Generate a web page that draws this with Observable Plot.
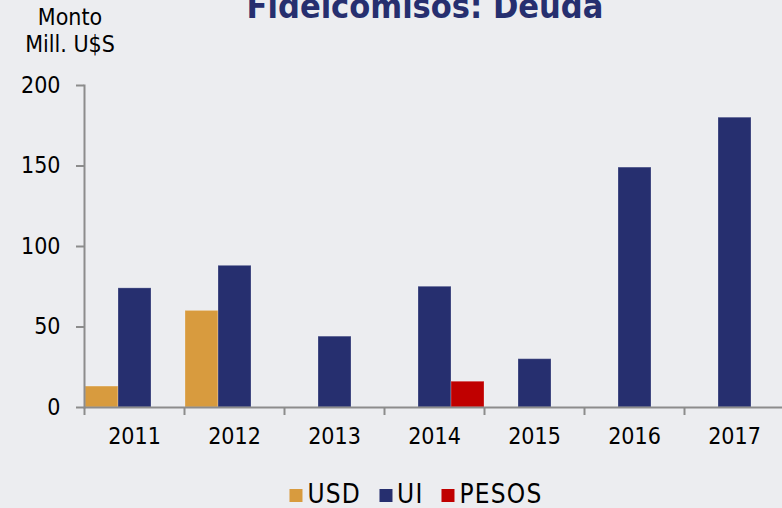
<!DOCTYPE html>
<html><head><meta charset="utf-8">
<script src="https://cdn.jsdelivr.net/npm/d3@7"></script>
<script src="https://cdn.jsdelivr.net/npm/@observablehq/plot@0.6"></script>
<style>
body{margin:0;background:#ecedf0;}
#wrap{position:relative;width:782px;height:508px;overflow:hidden;background:#ecedf0;font-family:"DejaVu Sans Condensed","DejaVu Sans",sans-serif;font-stretch:condensed;}
#title{position:absolute;top:-14px;left:425px;transform:translateX(-50%);white-space:nowrap;font-size:34px;font-weight:bold;color:#262F6F;}
#ylab{position:absolute;top:4px;left:70px;transform:translateX(-50%);text-align:center;font-size:23px;line-height:27px;color:#000;white-space:nowrap;}
#chart{position:absolute;top:0;left:0;}
#chart svg{max-width:none !important;}
#legend{position:absolute;top:482px;left:416px;transform:translateX(-50%);display:flex;align-items:center;white-space:nowrap;font-size:26px;line-height:24px;letter-spacing:1.2px;color:#000;}
#legend span.sw{display:inline-block;width:13px;height:13px;margin-right:5px;margin-top:3px;}
#legend span.it{display:flex;align-items:center;margin-right:18px;}
#legend span.it:last-child{margin-right:0;}
</style></head>
<body>
<div id="wrap">
  <div id="chart"></div>
  <div id="title">Fideicomisos: Deuda</div>
  <div id="ylab">Monto<br>Mill. U$S</div>
  <div id="legend"></div>
</div>
<script>
const years = ["2011","2012","2013","2014","2015","2016","2017"];
const series = ["USD","UI","PESOS"];
const usd   = [13, 60, null, null, null, null, null];
const ui    = [74, 88, 44, 75, 30, 149, 180];
const pesos = [null, null, null, 16, null, null, null];
const colors = ["#D89B3E","#262F6F","#C00000"];
const yTicks = [0, 50, 100, 150, 200];

const cols = {USD: usd, UI: ui, PESOS: pesos};
const data = [];
years.forEach((y, i) => series.forEach(s => {
  if (cols[s][i] != null) data.push({year: y, series: s, value: cols[s][i]});
}));

const axisColor = "#8c8c8c";
const fontFam = '"DejaVu Sans Condensed","DejaVu Sans",sans-serif';
const plot = Plot.plot({
  width: 800, height: 460,
  marginLeft: 84, marginRight: 16, marginTop: 85, marginBottom: 53,
  style: {background: "transparent", fontFamily: fontFam, fontSize: "23px", color: "#000", fontStretch: "condensed", maxWidth: "none"},
  fx: {domain: years, padding: 0, label: null, axis: null},
  x: {domain: series, padding: 0, axis: null},
  y: {domain: [0, 200], axis: null},
  color: {domain: series, range: colors},
  marks: [
    Plot.barY(data, {fx: "year", x: "series", y: "value", fill: "series", inset: 0, stroke: "#ffffff", strokeOpacity: 0.25, strokeWidth: 1}),
    Plot.ruleY([0], {stroke: axisColor, strokeWidth: 2}),
    Plot.frame({anchor: "left", facetAnchor: "left", stroke: axisColor, strokeWidth: 2}),
    Plot.axisY({ticks: yTicks, tickSize: 8, tickPadding: 16, stroke: axisColor, strokeWidth: 2, fill: "#000", fontSize: 23, label: null}),
    Plot.axisFx({anchor: "bottom", tickSize: 8, tickFormat: () => "", dx: -50, stroke: axisColor, strokeWidth: 2, label: null}),
    Plot.axisFx({anchor: "bottom", tickSize: 0, tickPadding: 20, fill: "#000", fontSize: 23, label: null})
  ]
});
plot.style.maxWidth = "none";
plot.style.width = "800px";
plot.style.height = "460px";
document.getElementById("chart").appendChild(plot);

const leg = document.getElementById("legend");
series.forEach((s, i) => {
  const it = document.createElement("span"); it.className = "it";
  const sw = document.createElement("span"); sw.className = "sw"; sw.style.background = colors[i];
  it.appendChild(sw);
  it.appendChild(document.createTextNode(s));
  leg.appendChild(it);
});
</script>
</body></html>
